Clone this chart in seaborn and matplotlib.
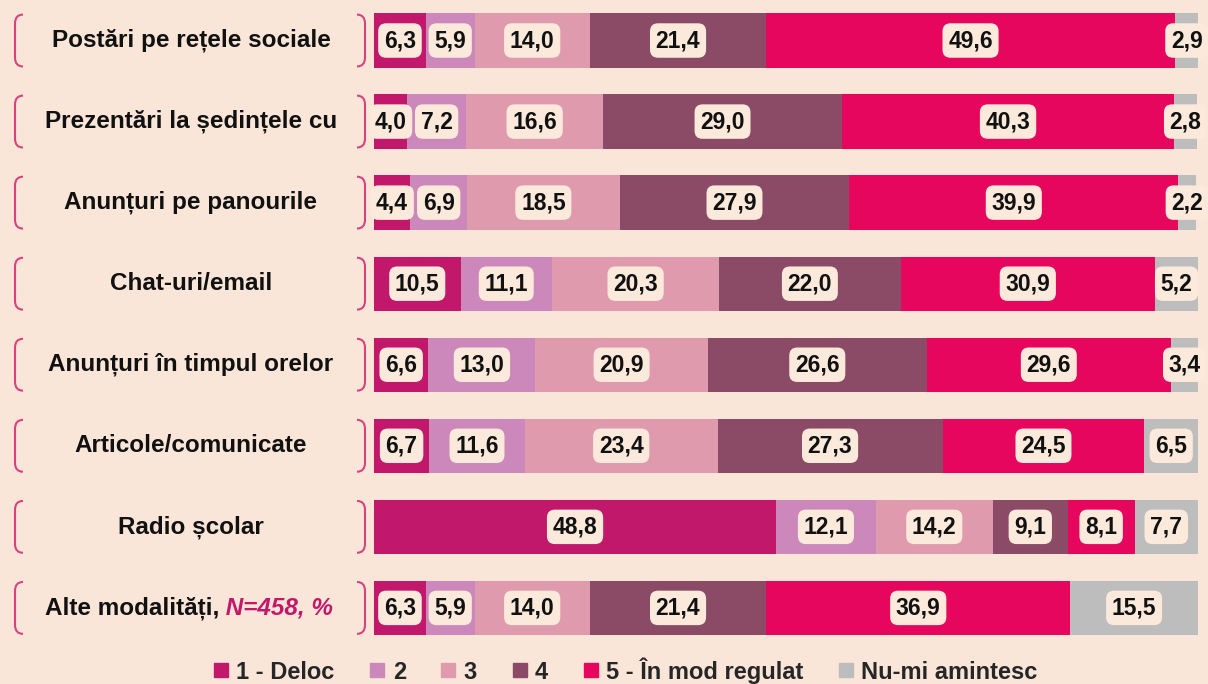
import numpy as np
import pandas as pd
import matplotlib.pyplot as plt
import seaborn as sns
from matplotlib.path import Path
from matplotlib.patches import PathPatch
from matplotlib.lines import Line2D
import matplotlib.transforms as mtransforms

sns.set_theme(style="white")
plt.rcParams['font.family'] = ['Liberation Sans', 'DejaVu Sans']

BG = '#FAE6D9'

categories = ['Postări pe rețele sociale', 'Prezentări la ședințele cu', 'Anunțuri pe panourile',
              'Chat-uri/email', 'Anunțuri în timpul orelor', 'Articole/comunicate',
              'Radio școlar', 'Alte modalități,']
series = ['1 - Deloc', '2', '3', '4', '5 - În mod regulat', 'Nu-mi amintesc']
colors = ['#C2186B', '#CC88BB', '#E09AAE', '#8B4A66', '#E6065E', '#BDBDBD']

deloc = [6.3, 4.0, 4.4, 10.5, 6.6, 6.7, 48.8, 6.3]
s2 = [5.9, 7.2, 6.9, 11.1, 13.0, 11.6, 12.1, 5.9]
s3 = [14.0, 16.6, 18.5, 20.3, 20.9, 23.4, 14.2, 14.0]
s4 = [21.4, 29.0, 27.9, 22.0, 26.6, 27.3, 9.1, 21.4]
regulat = [49.6, 40.3, 39.9, 30.9, 29.6, 24.5, 8.1, 36.9]
nu_mi = [2.9, 2.8, 2.2, 5.2, 3.4, 6.5, 7.7, 15.5]

df = pd.DataFrame(dict(zip(series, [deloc, s2, s3, s4, regulat, nu_mi])), index=categories)
cum = df.cumsum(axis=1)

fig = plt.figure(figsize=(12.08, 6.84), dpi=100, facecolor=BG)
ax = fig.add_axes([0.3096, 0.052, 0.6821, 0.948])
ax.set_facecolor(BG)

# stacked bars: draw cumulative totals from the back to the front
for col, c in reversed(list(zip(series, colors))):
    sns.barplot(x=cum[col].values, y=categories, orient='h', color=c, saturation=1,
                width=0.67, errorbar=None, linewidth=0, ax=ax)

ax.set_xlim(0, 100)
ax.set_ylim(len(categories) - 0.5, -0.5)
ax.axis('off')

# value labels in rounded boxes
for i, cat in enumerate(categories):
    left = 0
    for col in series:
        v = df.loc[cat, col]
        ax.text(left + v / 2, i, f'{v:.1f}'.replace('.', ','), ha='center', va='center',
                fontsize=16.5, fontweight='bold', color='#111111',
                bbox=dict(boxstyle='round,pad=0.25,rounding_size=0.35', fc='#FBEADB', ec='none'))
        left += v

# category labels with brackets
trans = mtransforms.blended_transform_factory(fig.transFigure, ax.transData)
xl, xr, w = 15 / 1208, 365 / 1208, 8 / 1208
h, r = 0.32, 0.11
for i, cat in enumerate(categories):
    t = ax.text(191 / 1208 if i < 7 else 132 / 1208, i, cat, transform=trans,
                ha='center', va='center', fontsize=17.5, fontweight='bold', color='#111111')
    if i == 7:
        ax.annotate(' N=458, %', xy=(1, 0), xycoords=t, va='bottom', ha='left',
                    fontsize=17.5, fontweight='bold', fontstyle='italic', color='#C2186B')
    for x0, s in [(xl, 1), (xr, -1)]:
        verts = [(x0 + s * w, i - h), (x0, i - h), (x0, i - h + r),
                 (x0, i + h - r), (x0, i + h), (x0 + s * w, i + h)]
        codes = [Path.MOVETO, Path.CURVE3, Path.CURVE3, Path.LINETO, Path.CURVE3, Path.CURVE3]
        ax.add_patch(PathPatch(Path(verts, codes), transform=trans, fill=False,
                               ec='#D8437F', lw=1.5, clip_on=False))

handles = [Line2D([], [], marker='s', ls='none', color=c, markersize=10) for c in colors]
fig.legend(handles, series, loc='center', bbox_to_anchor=(0.518, 0.02), ncol=6, frameon=False,
           handlelength=0.6, handletextpad=0.35, columnspacing=1.5,
           prop=dict(weight='bold', size=17))

fig.savefig('out.png', dpi=100, facecolor=BG)
